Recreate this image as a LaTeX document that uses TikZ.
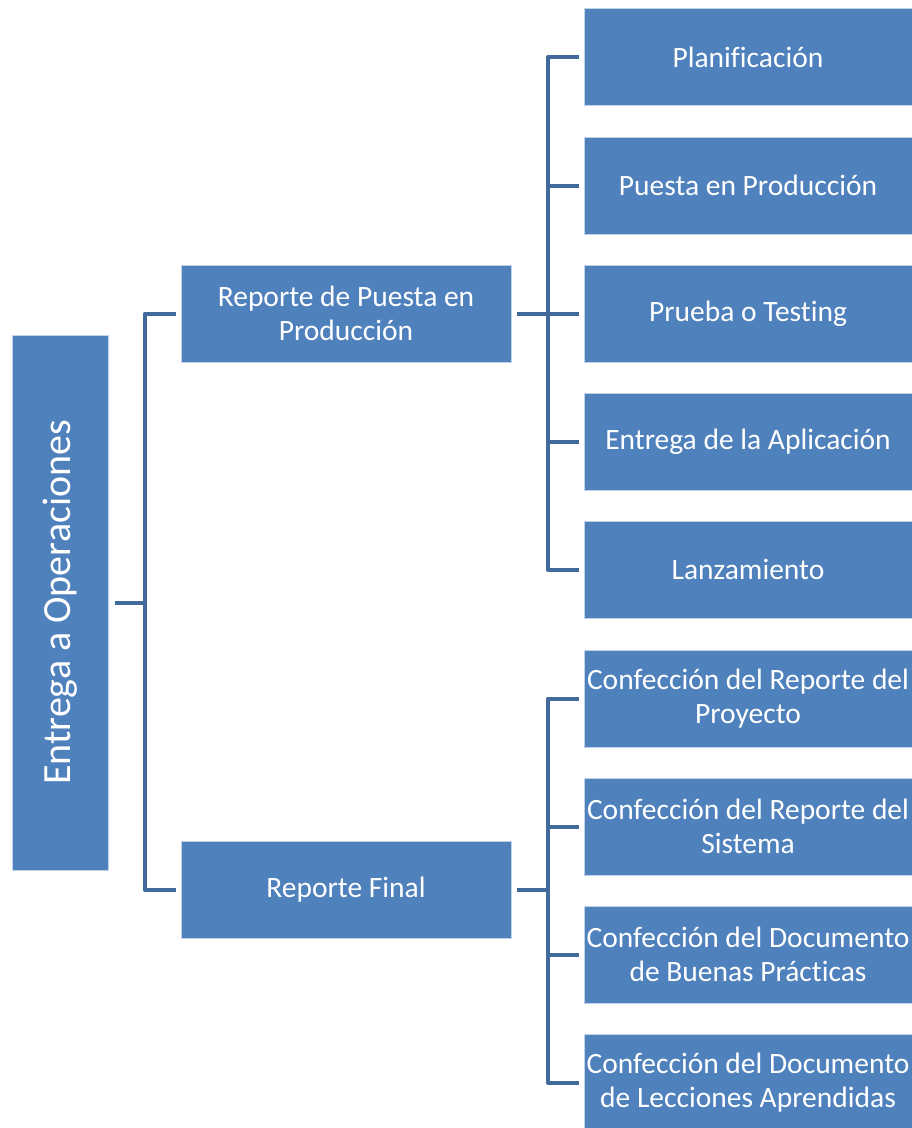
\documentclass[tikz,border=0pt]{standalone}
\usepackage{fontspec}
\setmainfont[Ligatures=NoCommon]{Carlito}
\usepackage{tikz}
\definecolor{boxblue}{HTML}{4F81BD}
\definecolor{linkblue}{HTML}{41699C}

\begin{document}
\begin{tikzpicture}[x=1pt,y=-1pt,
   wbs/.style={rectangle,fill=boxblue,draw=white!65!boxblue,line width=0.8pt,text=white,align=center,inner sep=1pt,font=\fontsize{29.5}{34}\selectfont},
   lvlone/.style={wbs,minimum width=330pt,minimum height=97pt},
   lvltwo/.style={wbs,minimum width=328pt,minimum height=97pt},
   conn/.style={linkblue,line width=4pt,line join=round}]
\useasboundingbox (0,0) rectangle (912,1128);
% root box, turned on its side
\node[wbs,rotate=90,minimum width=535pt,minimum height=96pt,font=\fontsize{40}{46}\selectfont] (root) at (60,602.5) {Entrega a Operaciones};
% first level
\node[lvlone] (rpp) at (346,313.5) {Reporte de Puesta en\\Producción};
\node[lvlone] (rf) at (346,890) {Reporte Final};
% second level
\foreach \n/\y/\t in %
{p1/57/{Planificación},p2/185.5/{Puesta en Producción},p3/313.5/{Prueba o Testing},%
p4/441.5/{Entrega de la Aplicación},p5/569.5/{Lanzamiento},%
f1/698.5/{Confección del Reporte del\\Proyecto},f2/826.5/{Confección del Reporte del\\Sistema},%
f3/954.5/{Confección del Documento\\de Buenas Prácticas},f4/1082.5/{Confección del Documento\\de Lecciones Aprendidas}} {
   \node[lvltwo] (\n) at (748,\y) {\t};
}
% connectors
\coordinate (busa) at (145,602.5);
\coordinate (busb) at (548,313.5);
\coordinate (busc) at (548,890);
\draw[conn] ([xshift=7pt]root.south) -- (busa);
\draw[conn] (busa) |- ([xshift=-5pt]rpp.west);
\draw[conn] (busa) |- ([xshift=-5pt]rf.west);
\draw[conn] ([xshift=6pt]rpp.east) -- (busb);
\draw[conn] ([xshift=6pt]rf.east) -- (busc);
\foreach \n in {p1,p2,p3,p4,p5} {
   \draw[conn] (busb) |- ([xshift=-5pt]\n.west);
}
\foreach \n in {f1,f2,f3,f4} {
   \draw[conn] (busc) |- ([xshift=-5pt]\n.west);
}
\end{tikzpicture}
\end{document}
